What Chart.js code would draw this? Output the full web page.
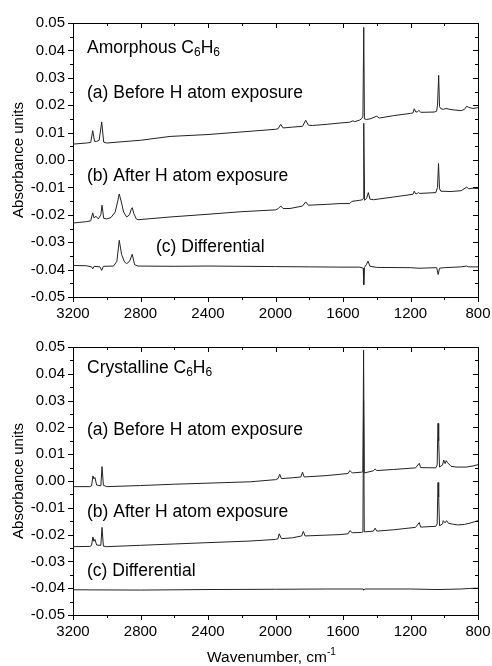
<!DOCTYPE html>
<html>
<head>
<meta charset="utf-8">
<script src="https://cdn.jsdelivr.net/npm/chart.js@4.4.1/dist/chart.umd.min.js"></script>
<style>
  body { margin: 0; background: #fff; width: 492px; height: 666px; position: relative; overflow: hidden; }
  #topChart { position: absolute; left: 0; top: 0; }
  #botChart { position: absolute; left: 0; top: 330px; }
</style>
</head>
<body>
<canvas id="topChart" width="492" height="330"></canvas>
<canvas id="botChart" width="492" height="336"></canvas>
<script>
// spectra (wavenumber in cm-1, absorbance)
const amorphA_wn  = [3200, 3120, 3095, 3083, 3072, 3060, 3045, 3030, 3018, 3000, 2800, 2625, 2400, 2210, 2000, 1985, 1969, 1955, 1900, 1840, 1821, 1805, 1780, 1700, 1618, 1560, 1541, 1530, 1500, 1488, 1482, 1477, 1473, 1460, 1440, 1400, 1385, 1300, 1200, 1185, 1178, 1168, 1158, 1150, 1140, 1060, 1045, 1040, 1033, 1028, 1020, 1005, 990, 960, 900, 880, 867, 855, 830, 800];
const amorphA_abs = [0.0058, 0.0062, 0.0064, 0.0107, 0.0068, 0.0068, 0.0072, 0.0139, 0.0065, 0.0062, 0.0072, 0.0086, 0.0093, 0.0102, 0.0112, 0.0114, 0.0130, 0.0117, 0.0120, 0.0123, 0.0145, 0.0127, 0.0126, 0.0130, 0.0135, 0.0138, 0.0143, 0.0140, 0.0146, 0.0152, 0.0160, 0.0484, 0.0150, 0.0148, 0.0150, 0.0160, 0.0153, 0.0162, 0.0170, 0.0172, 0.0187, 0.0175, 0.0176, 0.0181, 0.0174, 0.0175, 0.0178, 0.0200, 0.0309, 0.0195, 0.0187, 0.0185, 0.0188, 0.0184, 0.0180, 0.0185, 0.0196, 0.0192, 0.0188, 0.0191];

const amorphB_wn  = [3200, 3120, 3095, 3083, 3075, 3065, 3050, 3035, 3028, 3018, 3000, 2975, 2950, 2935, 2926, 2915, 2900, 2882, 2865, 2855, 2849, 2840, 2825, 2815, 2625, 2400, 2210, 2000, 1985, 1969, 1955, 1914, 1840, 1821, 1805, 1700, 1618, 1560, 1548, 1500, 1485, 1480, 1477, 1472, 1460, 1450, 1440, 1420, 1300, 1185, 1178, 1168, 1160, 1154, 1145, 1050, 1040, 1034, 1028, 1020, 960, 900, 867, 855, 830, 800];
const amorphB_abs = [-0.0230, -0.0225, -0.0222, -0.0193, -0.0212, -0.0205, -0.0215, -0.0200, -0.0165, -0.0213, -0.0215, -0.0210, -0.0190, -0.0150, -0.0124, -0.0150, -0.0190, -0.0208, -0.0200, -0.0180, -0.0174, -0.0195, -0.0215, -0.0218, -0.0208, -0.0198, -0.0189, -0.0182, -0.0178, -0.0168, -0.0177, -0.0177, -0.0168, -0.0153, -0.0165, -0.0162, -0.0159, -0.0159, -0.0151, -0.0147, -0.0145, -0.0140, 0.0134, -0.0147, -0.0140, -0.0119, -0.0143, -0.0145, -0.0135, -0.0125, -0.0114, -0.0124, -0.0122, -0.0119, -0.0122, -0.0119, -0.0100, -0.0013, -0.0105, -0.0114, -0.0115, -0.0112, -0.0099, -0.0105, -0.0103, -0.0104];

const amorphC_wn  = [3200, 3120, 3090, 3083, 3075, 3040, 3030, 3020, 2960, 2940, 2926, 2912, 2895, 2882, 2865, 2849, 2835, 2815, 2600, 2400, 2000, 1800, 1600, 1500, 1480, 1477, 1473, 1460, 1452, 1440, 1400, 1200, 1150, 1045, 1036, 1028, 1000, 900, 867, 855, 800];
const amorphC_abs = [-0.0385, -0.0386, -0.0390, -0.0397, -0.0388, -0.0390, -0.0403, -0.0388, -0.0387, -0.0370, -0.0293, -0.0345, -0.0372, -0.0378, -0.0370, -0.0344, -0.0382, -0.0387, -0.0388, -0.0387, -0.0389, -0.0390, -0.0391, -0.0391, -0.0395, -0.0455, -0.0392, -0.0380, -0.0369, -0.0388, -0.0392, -0.0393, -0.0395, -0.0393, -0.0418, -0.0395, -0.0393, -0.0390, -0.0387, -0.0390, -0.0390];

const crystA_wn  = [3200, 3100, 3090, 3082, 3076, 3070, 3060, 3035, 3028, 3020, 3000, 2800, 2600, 2400, 2150, 2000, 1985, 1975, 1965, 1900, 1850, 1840, 1830, 1700, 1618, 1570, 1559, 1545, 1490, 1482, 1478, 1474, 1420, 1410, 1400, 1300, 1170, 1148, 1140, 1050, 1042, 1037, 1033, 1028, 1010, 1003, 995, 988, 980, 960, 930, 870, 830, 800];
const crystA_abs = [-0.0021, -0.0021, -0.0018, 0.0019, 0.0008, 0.0013, -0.0015, -0.0018, 0.0054, -0.0016, -0.0021, -0.0017, -0.0012, -0.0008, -0.0003, 0.0005, 0.0009, 0.0025, 0.0009, 0.0012, 0.0015, 0.0033, 0.0015, 0.0020, 0.0025, 0.0028, 0.0039, 0.0030, 0.0033, 0.0035, 0.0488, 0.0030, 0.0038, 0.0045, 0.0039, 0.0043, 0.0049, 0.0066, 0.0050, 0.0049, 0.0060, 0.0215, 0.0150, 0.0052, 0.0060, 0.0078, 0.0065, 0.0076, 0.0068, 0.0055, 0.0052, 0.0052, 0.0056, 0.0061];

const crystB_wn  = [3200, 3100, 3090, 3082, 3076, 3070, 3060, 3035, 3028, 3020, 3000, 2800, 2600, 2400, 2150, 2000, 1985, 1978, 1965, 1900, 1845, 1835, 1825, 1700, 1618, 1570, 1559, 1545, 1490, 1482, 1478, 1474, 1420, 1410, 1400, 1300, 1170, 1148, 1140, 1050, 1042, 1037, 1033, 1028, 1010, 1006, 995, 986, 975, 950, 920, 880, 847, 800];
const crystB_abs = [-0.0245, -0.0244, -0.0240, -0.0209, -0.0225, -0.0218, -0.0239, -0.0240, -0.0173, -0.0243, -0.0245, -0.0240, -0.0235, -0.0230, -0.0224, -0.0218, -0.0215, -0.0197, -0.0215, -0.0212, -0.0205, -0.0188, -0.0205, -0.0202, -0.0200, -0.0197, -0.0185, -0.0193, -0.0192, -0.0190, 0.0300, -0.0190, -0.0187, -0.0176, -0.0187, -0.0182, -0.0173, -0.0155, -0.0172, -0.0169, -0.0160, -0.0006, -0.0060, -0.0167, -0.0160, -0.0148, -0.0156, -0.0148, -0.0158, -0.0161, -0.0164, -0.0162, -0.0157, -0.0148];

const crystC_wn  = [3200, 2800, 2400, 2000, 1700, 1480, 1478, 1470, 1200, 1037, 900, 850, 800];
const crystC_abs = [-0.0406, -0.0407, -0.0405, -0.0404, -0.0403, -0.0403, -0.0407, -0.0403, -0.0403, -0.0405, -0.0403, -0.0401, -0.0400];

const xTicks = [800, 1200, 1600, 2000, 2400, 2800, 3200];

const FONT = '"Liberation Sans", Arial, sans-serif';
const LINE = '#222';

function toPoints(wn, abs) {
  return wn.map((w, i) => ({ x: w, y: abs[i] }));
}

function trace(wn, abs) {
  return {
    data: toPoints(wn, abs),
    borderColor: LINE,
    borderWidth: 1,
    pointRadius: 0,
    tension: 0,
    fill: false
  };
}

// Origin-style ticks: out on left/bottom, in on top/right, with minors
const tickMarks = {
  id: 'tickMarks',
  afterDraw(chart) {
    const { ctx, chartArea: a, scales: { x, y } } = chart;
    ctx.save();
    ctx.strokeStyle = '#000';
    ctx.lineWidth = 1;
    ctx.beginPath();
    for (let i = 0; i <= 12; i++) {
      const v = 800 + 200 * i;
      const len = i % 2 === 0 ? 5 : 3;
      const px = Math.round(x.getPixelForValue(v)) + 0.5;
      ctx.moveTo(px, a.bottom); ctx.lineTo(px, a.bottom + len);
      ctx.moveTo(px, a.top); ctx.lineTo(px, a.top + len);
    }
    for (let i = 0; i <= 20; i++) {
      const v = -0.05 + 0.005 * i;
      const len = i % 2 === 0 ? 5 : 3;
      const py = Math.round(y.getPixelForValue(v)) + 0.5;
      ctx.moveTo(a.left - len, py); ctx.lineTo(a.left, py);
      ctx.moveTo(a.right, py); ctx.lineTo(a.right - len, py);
    }
    ctx.stroke();
    ctx.restore();
  }
};

// panel annotations, with subscripts / superscripts
const labels = {
  id: 'labels',
  afterDraw(chart, args, opts) {
    const ctx = chart.ctx;
    ctx.save();
    ctx.fillStyle = '#000';
    ctx.textBaseline = 'middle';
    ctx.textAlign = 'left';
    opts.items.forEach(item => {
      let xx = item.x;
      item.parts.forEach(p => {
        const size = p.sub || p.sup ? item.small : item.size;
        ctx.font = size + 'px ' + FONT;
        const dy = p.sub ? item.size * 0.26 : (p.sup ? -item.size * 0.38 : 0);
        ctx.fillText(p.t, xx, item.y + dy);
        xx += ctx.measureText(p.t).width;
      });
    });
    ctx.restore();
  }
};

function scales(topH, bottomH) {
  const tickFont = { size: 15, family: FONT };
  return {
    x: {
      type: 'linear', position: 'bottom', min: 800, max: 3200, reverse: true,
      afterBuildTicks: s => { s.ticks = xTicks.map(v => ({ value: v })); },
      ticks: { color: '#000', font: tickFont, padding: 8, maxRotation: 0, callback: v => String(v) },
      grid: { display: false, drawTicks: false },
      border: { color: '#000', width: 1 },
      afterFit: s => { s.height = bottomH; }
    },
    x2: {
      type: 'linear', position: 'top', min: 800, max: 3200, reverse: true,
      ticks: { display: false },
      grid: { display: false, drawTicks: false },
      border: { color: '#000', width: 1 },
      afterFit: s => { s.height = topH; }
    },
    y: {
      type: 'linear', position: 'left', min: -0.05, max: 0.05,
      ticks: {
        stepSize: 0.01, color: '#000', font: tickFont, padding: 8,
        callback: v => Math.abs(v) < 1e-9 ? '0.00' : v.toFixed(2)
      },
      title: { display: true, text: 'Absorbance units', color: '#000', font: { size: 15, family: FONT }, padding: { top: 10, bottom: 0 } },
      grid: { display: false, drawTicks: false },
      border: { color: '#000', width: 1 },
      afterFit: s => { s.width = 73; }
    },
    y2: {
      type: 'linear', position: 'right', min: -0.05, max: 0.05,
      ticks: { display: false },
      grid: { display: false, drawTicks: false },
      border: { color: '#000', width: 1 },
      afterFit: s => { s.width = 14; }
    }
  };
}

const common = {
  responsive: false,
  animation: false,
  layout: { padding: 0 },
  plugins: { legend: { display: false }, tooltip: { enabled: false } }
};

new Chart(document.getElementById('topChart'), {
  type: 'line',
  data: { datasets: [trace(amorphA_wn, amorphA_abs), trace(amorphB_wn, amorphB_abs), trace(amorphC_wn, amorphC_abs)] },
  options: {
    ...common,
    scales: scales(23, 33),
    plugins: {
      ...common.plugins,
      labels: {
        items: [
          { x: 87, y: 48, size: 17.5, small: 12, parts: [{ t: 'Amorphous C' }, { t: '6', sub: true }, { t: 'H' }, { t: '6', sub: true }] },
          { x: 87, y: 93, size: 17.5, small: 12, parts: [{ t: '(a) Before H atom exposure' }] },
          { x: 87, y: 176, size: 17.5, small: 12, parts: [{ t: '(b) After H atom exposure' }] },
          { x: 156, y: 247, size: 17.5, small: 12, parts: [{ t: '(c) Differential' }] }
        ]
      }
    }
  },
  plugins: [tickMarks, labels]
});

new Chart(document.getElementById('botChart'), {
  type: 'line',
  data: { datasets: [trace(crystA_wn, crystA_abs), trace(crystB_wn, crystB_abs), trace(crystC_wn, crystC_abs)] },
  options: {
    ...common,
    scales: scales(10, 51),
    plugins: {
      ...common.plugins,
      labels: {
        items: [
          { x: 87, y: 38, size: 17.5, small: 12, parts: [{ t: 'Crystalline C' }, { t: '6', sub: true }, { t: 'H' }, { t: '6', sub: true }] },
          { x: 87, y: 100, size: 17.5, small: 12, parts: [{ t: '(a) Before H atom exposure' }] },
          { x: 87, y: 182, size: 17.5, small: 12, parts: [{ t: '(b) After H atom exposure' }] },
          { x: 87, y: 241, size: 17.5, small: 12, parts: [{ t: '(c) Differential' }] },
          { x: 207, y: 328, size: 15.5, small: 10, parts: [{ t: 'Wavenumber, cm' }, { t: '-1', sup: true }] }
        ]
      }
    }
  },
  plugins: [tickMarks, labels]
});
</script>
</body>
</html>
